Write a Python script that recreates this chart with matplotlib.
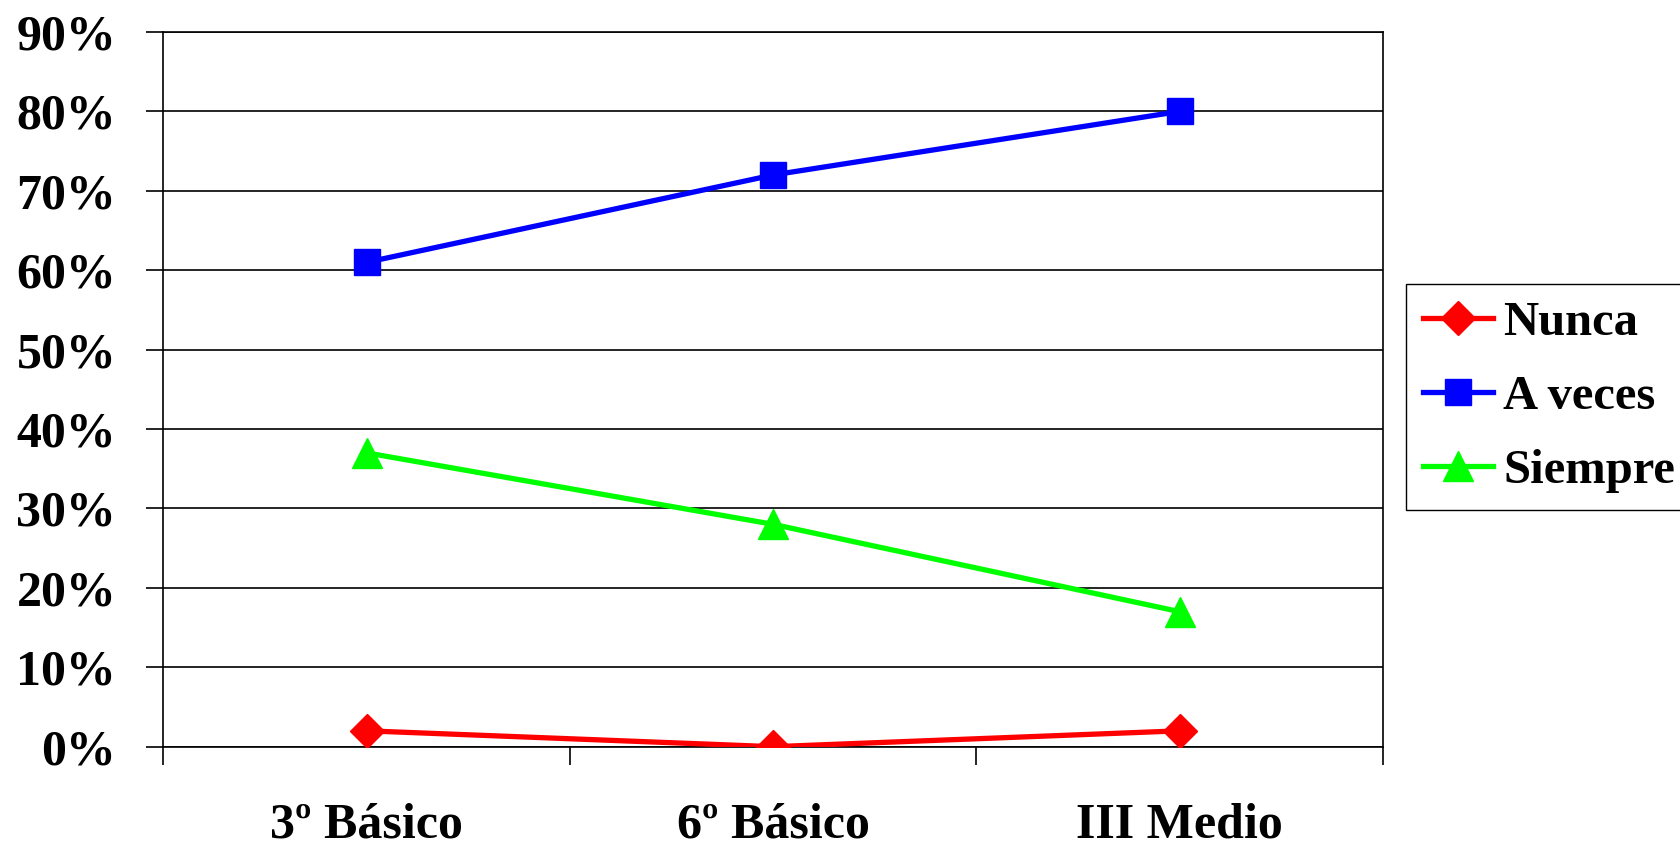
import matplotlib
matplotlib.use("Agg")
import matplotlib.pyplot as plt
from matplotlib.ticker import FixedLocator

plt.rcParams["font.family"] = ["Liberation Serif", "DejaVu Serif"]
plt.rcParams["font.weight"] = "bold"

# datos
cursos = ["3º Básico", "6º Básico", "III Medio"]
nunca = [0.02, 0.00, 0.02]
a_veces = [0.61, 0.72, 0.80]
siempre = [0.37, 0.28, 0.17]
y_ticks = [0.0, 0.1, 0.2, 0.3, 0.4, 0.5, 0.6, 0.7, 0.8, 0.9]

W, H = 1681, 849
fig = plt.figure(figsize=(W / 100, H / 100), dpi=100)
ax = fig.add_axes([163.5 / W, 1 - 746.7 / H, (1383 - 163.5) / W, (746.7 - 32) / H])

x = range(len(cursos))
ax.plot(x, nunca, color="#ff0000", lw=3.8, marker="D", ms=17, label="Nunca", zorder=3)
ax.plot(x, a_veces, color="#0000ff", lw=3.8, marker="s", ms=19, label="A veces", zorder=3)
ax.plot(x, siempre, color="#00ff00", lw=3.8, marker="^", ms=21, label="Siempre", zorder=3)

ax.set_xlim(-0.5, len(cursos) - 0.5)
ax.set_ylim(0, 0.9)
ax.set_yticks(y_ticks)
ax.set_yticklabels(["%d%%" % round(v * 100) for v in y_ticks], fontsize=36)
ax.yaxis.grid(True, color="black", lw=1.2)
ax.set_axisbelow(True)
ax.tick_params(axis="y", length=12, width=1.2, pad=22)

ax.set_xticks(list(x))
ax.set_xticklabels(cursos, fontsize=36)
ax.xaxis.set_minor_locator(FixedLocator([i - 0.5 for i in range(len(cursos) + 1)]))
ax.tick_params(axis="x", which="major", length=0, pad=40)
ax.tick_params(axis="x", which="minor", length=13, width=1.2)

for s in ax.spines.values():
    s.set_color("black")
    s.set_linewidth(1.2)

fig.legend(loc="upper left", bbox_to_anchor=(1406 / W, 1 - 284 / H),
           fontsize=35, frameon=True, fancybox=False, edgecolor="black",
           framealpha=1, borderpad=0.35, labelspacing=0.62, handlelength=1.45,
           handletextpad=0.2, borderaxespad=0)

fig.savefig("out.png", dpi=100, facecolor="white")
